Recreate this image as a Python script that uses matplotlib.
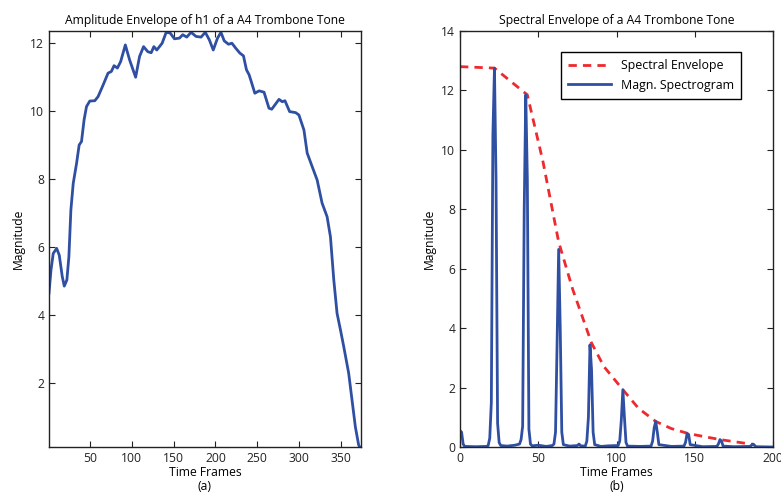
import matplotlib
matplotlib.use('Agg')
import matplotlib.pyplot as plt

plt.rcParams['font.family'] = ['Open Sans', 'DejaVu Sans']
plt.rcParams['font.size'] = 8.7

# (a) amplitude envelope of h1
amp_frames = [1, 3.4, 6.1, 10.2, 13.3, 16.9, 19.3, 22.4, 24.8, 27.2, 30, 34, 37.1, 39.9, 43,
              45.9, 49.8, 55.8, 59.7, 65.7, 71.6, 75.6, 78.8, 82.8, 86.7, 92.3, 97.4, 104.6,
              109.3, 114.1, 119.2, 123.2, 126.4, 129.9, 136.3, 141.1, 145.9, 151, 157, 160.9,
              165.7, 170.9, 176.8, 182.8, 187.9, 192.7, 197.4, 202.5, 206.6, 210.5, 215.6,
              219.7, 224.4, 229.2, 233.5, 237.1, 240.3, 243.5, 247.1, 252.2, 258.1, 264,
              267.3, 271.2, 276, 279.9, 283.1, 288.7, 295.9, 299.8, 305.8, 309.7, 315.7,
              321.6, 327.5, 333.5, 337.5, 341.5, 345.4, 349.5, 353.4, 359.3, 363.3, 367.3,
              371.2, 373]
amp_values = [4.64, 5.32, 5.81, 5.96, 5.76, 5.13, 4.85, 5.03, 5.71, 7.09, 7.87, 8.46, 9.0,
              9.1, 9.74, 10.13, 10.29, 10.3, 10.42, 10.76, 11.11, 11.16, 11.33, 11.26, 11.45,
              11.94, 11.5, 10.99, 11.6, 11.89, 11.74, 11.71, 11.89, 11.79, 11.99, 12.31, 12.29,
              12.12, 12.14, 12.24, 12.17, 12.31, 12.19, 12.17, 12.31, 12.09, 11.79, 12.14,
              12.31, 12.06, 11.96, 11.99, 11.84, 11.7, 11.62, 11.21, 11.06, 10.81, 10.52,
              10.59, 10.55, 10.08, 10.05, 10.18, 10.34, 10.27, 10.3, 9.98, 9.95, 9.88, 9.44,
              8.76, 8.36, 7.97, 7.29, 6.89, 6.3, 5.03, 4.05, 3.56, 3.07, 2.29, 1.5, 0.71,
              0.18, 0.1]

# (b) magnitude spectrogram frame and spectral envelope
spec_frames = [0, 1, 2, 3, 10, 17, 18, 19, 20, 21, 22, 23, 24, 25, 26, 30, 35, 38, 39, 40, 41,
               42, 43, 44, 45, 46, 50, 55, 59, 60, 61, 62, 63, 64, 65, 66, 70, 75, 76, 77, 80,
               81, 82, 83, 84, 85, 86, 90, 95, 101, 102, 103, 104, 105, 106, 107, 115, 122, 123,
               124, 125, 126, 127, 135, 143, 144, 145, 146, 147, 155, 164, 165, 166, 167, 168,
               175, 185, 186, 187, 188, 189, 200]
spec_values = [0.55, 0.5, 0.1, 0.02, 0.01, 0.02, 0.05, 0.3, 1.5, 10.5, 12.75, 9.0, 0.8, 0.15,
               0.05, 0.03, 0.06, 0.1, 0.25, 0.7, 8.0, 11.85, 9.0, 0.6, 0.1, 0.04, 0.06, 0.02,
               0.05, 0.1, 0.5, 3.5, 6.65, 4.0, 0.5, 0.08, 0.03, 0.05, 0.1, 0.04, 0.03, 0.2, 1.0,
               3.44, 2.6, 0.5, 0.08, 0.02, 0.04, 0.05, 0.2, 0.9, 1.93, 1.0, 0.15, 0.03, 0.02,
               0.03, 0.2, 0.65, 0.86, 0.5, 0.08, 0.02, 0.03, 0.15, 0.45, 0.42, 0.08, 0.01, 0.02,
               0.1, 0.25, 0.2, 0.03, 0.01, 0.02, 0.05, 0.1, 0.06, 0.01, 0.0]
env_frames = [0, 22, 43, 53, 63, 72, 84, 92, 104, 114, 125, 135, 146, 166, 188]
env_values = [12.8, 12.75, 11.85, 9.6, 6.9, 5.3, 3.5, 2.7, 1.93, 1.3, 0.86, 0.62, 0.45, 0.25, 0.08]

blue = '#2f4fa3'
red = '#ee2a2e'

fig = plt.figure(figsize=(7.81, 4.98), dpi=100)
ax1 = fig.add_axes([0.0627, 0.1024, 0.3995, 0.8354])
ax2 = fig.add_axes([0.589, 0.1024, 0.401, 0.8354])

ax1.plot(amp_frames, amp_values, color=blue, lw=2, solid_joinstyle='round')
ax1.set_xlim(1, 374)
ax1.set_ylim(0.12, 12.35)
ax1.set_xticks([50, 100, 150, 200, 250, 300, 350])
ax1.set_yticks([2, 4, 6, 8, 10, 12])
ax1.set_title('Amplitude Envelope of h1 of a A4 Trombone Tone', fontsize=8.7, pad=5)
ax1.set_xlabel('Time Frames\n(a)', labelpad=1, linespacing=1.1)
ax1.set_ylabel('Magnitude')

ax2.plot(env_frames, env_values, color=red, lw=2, ls=(0, (3, 2.2)), label='Spectral Envelope')
ax2.plot(spec_frames, spec_values, color=blue, lw=2, label='Magn. Spectrogram')
ax2.set_xlim(0, 200)
ax2.set_ylim(0, 14)
ax2.set_xticks([0, 50, 100, 150, 200])
ax2.set_yticks([0, 2, 4, 6, 8, 10, 12, 14])
ax2.set_title('Spectral Envelope of a A4 Trombone Tone', fontsize=8.7, pad=5)
ax2.set_xlabel('Time Frames\n(b)', labelpad=1, linespacing=1.1)
ax2.set_ylabel('Magnitude')
ax2.legend(loc='upper right', bbox_to_anchor=(0.916, 0.964), fancybox=False,
           edgecolor='black', framealpha=1, handlelength=3.5, borderpad=0.55,
           labelspacing=0.55, fontsize=8.9)

for ax in (ax1, ax2):
    ax.tick_params(direction='in', top=True, right=True, length=4, colors='#222222')
    for s in ax.spines.values():
        s.set_linewidth(1.0)
        s.set_color('#222222')

fig.savefig('out.png', dpi=100)
